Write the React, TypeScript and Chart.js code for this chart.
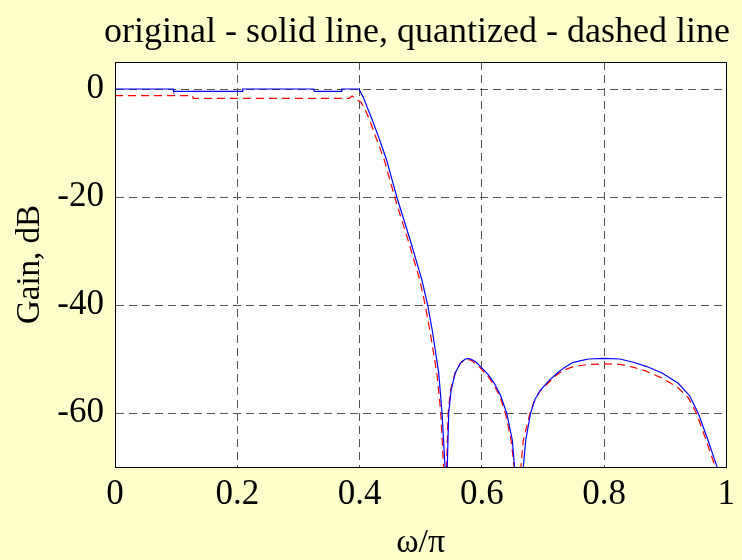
import React, { useEffect, useRef } from "react";
import { Chart, registerables } from "chart.js";

Chart.register(...registerables);

const TITLE = "original - solid line, quantized - dashed line";
const X_LABEL = "ω/π";
const Y_LABEL = "Gain, dB";

const xTicks = [0, 0.2, 0.4, 0.6, 0.8, 1];
const yTicks = [-60, -40, -20, 0];

// original filter (solid blue)
const omegaOrig = [
  0, 0.095, 0.096, 0.208, 0.209, 0.325, 0.326, 0.37, 0.371, 0.399,
  0.406, 0.413, 0.421, 0.43, 0.444, 0.461, 0.483, 0.502, 0.5115, 0.5195,
  0.5296, 0.535, 0.54, 0.542, 0.5436, 0.5459, 0.55, 0.5566, 0.5654, 0.572,
  0.577, 0.582, 0.59, 0.598, 0.61, 0.6206, 0.631, 0.6407, 0.65, 0.6537,
  0.661, 0.668, 0.672, 0.68, 0.687, 0.6964, 0.71, 0.7236, 0.735, 0.748,
  0.762, 0.775, 0.8, 0.826, 0.848, 0.87, 0.895, 0.9215, 0.94, 0.954,
  0.97, 0.985, 1.0,
];
const gainOrig = [
  0, 0, -0.43, -0.43, 0, 0, -0.43, -0.43, 0, 0,
  -1.5, -3.5, -5.8, -8.5, -13, -20, -28, -35.3, -40, -45,
  -52.6, -60, -70, -100, -70, -60, -55.7, -52.6, -50.7, -50.1,
  -49.9, -50.0, -50.5, -51.4, -52.8, -54.5, -56.8, -60, -65, -70,
  -100, -70, -65, -60, -57.5, -55.7, -54, -52.6, -51.6, -50.7,
  -50.3, -50.0, -49.9, -50.0, -50.6, -51.4, -52.6, -54.5, -56.8, -60,
  -65, -70, -100,
];

// quantized filter (dashed red)
const omegaQuant = [
  0, 0.127, 0.128, 0.383, 0.388, 0.395, 0.403, 0.41, 0.418, 0.427,
  0.441, 0.458, 0.48, 0.499, 0.508, 0.516, 0.527, 0.533, 0.5375, 0.54,
  0.5425, 0.545, 0.549, 0.556, 0.565, 0.57, 0.576, 0.582, 0.589, 0.597,
  0.609, 0.62, 0.63, 0.639, 0.648, 0.653, 0.658, 0.664, 0.668, 0.679,
  0.686, 0.695, 0.709, 0.722, 0.735, 0.748, 0.762, 0.775, 0.8, 0.826,
  0.847, 0.868, 0.894, 0.92, 0.938, 0.951, 0.967, 0.982, 1.0,
];
const gainQuant = [
  -1.24, -1.24, -1.73, -1.73, -1.3, -1.9, -2.5, -4.0, -6.2, -9.0,
  -13.3, -20.2, -28.2, -35.5, -40.3, -45.3, -53, -60, -70, -100,
  -70, -60, -55.7, -52.7, -50.8, -50.3, -50.1, -50.2, -50.8, -51.6,
  -53, -54.8, -57, -60.2, -65, -70, -100, -70, -65, -60,
  -57.8, -56, -54.4, -53, -52, -51.5, -51.2, -51, -50.9, -51,
  -51.5, -52.2, -53.5, -55.2, -57.2, -60, -65, -70, -100,
];

const SERIF = "'Liberation Serif', 'Times New Roman', serif";

export default function App() {
  const ref = useRef<HTMLCanvasElement | null>(null);

  useEffect(() => {
    document.body.style.margin = "0";
    const canvas = ref.current;
    if (!canvas) return;

    const bgPlugin = {
      id: "bg",
      beforeDraw(chart: any) {
        const { ctx, width, height, chartArea } = chart;
        ctx.save();
        ctx.fillStyle = "#FFFFCC";
        ctx.fillRect(0, 0, width, height);
        ctx.fillStyle = "#FFFFFF";
        ctx.fillRect(
          chartArea.left,
          chartArea.top,
          chartArea.right - chartArea.left,
          chartArea.bottom - chartArea.top
        );
        ctx.restore();
      },
      afterDraw(chart: any) {
        const { ctx, chartArea } = chart;
        ctx.save();
        ctx.strokeStyle = "#000000";
        ctx.lineWidth = 1;
        ctx.setLineDash([]);
        ctx.strokeRect(
          Math.round(chartArea.left) + 0.5,
          Math.round(chartArea.top) + 0.5,
          Math.round(chartArea.right - chartArea.left),
          Math.round(chartArea.bottom - chartArea.top)
        );
        ctx.fillStyle = "#000000";
        ctx.font = `36px ${SERIF}`;
        ctx.textAlign = "center";
        ctx.textBaseline = "alphabetic";
        ctx.fillText(TITLE, 417, 42);
        ctx.restore();
      },
    };

    const chart = new Chart(canvas, {
      type: "line",
      data: {
        datasets: [
          {
            label: "original",
            data: omegaOrig.map((w, i) => ({ x: w, y: gainOrig[i] })),
            borderColor: "#0000FF",
            borderWidth: 1.2,
            pointRadius: 0,
            tension: 0,
            fill: false,
          },
          {
            label: "quantized",
            data: omegaQuant.map((w, i) => ({ x: w, y: gainQuant[i] })),
            borderColor: "#FF0000",
            borderWidth: 1.2,
            borderDash: [8, 5],
            pointRadius: 0,
            tension: 0,
            fill: false,
          },
        ],
      },
      plugins: [bgPlugin],
      options: {
        animation: false,
        responsive: false,
        layout: { padding: { top: 62, right: 12, bottom: 0, left: 0 } },
        plugins: {
          legend: { display: false },
          tooltip: { enabled: false },
          title: { display: false },
        },
        scales: {
          x: {
            type: "linear",
            min: 0,
            max: 1,
            afterBuildTicks: (scale: any) => {
              scale.ticks = xTicks.map((v) => ({ value: v }));
            },
            afterFit: (scale: any) => {
              scale.height = 93;
            },
            ticks: {
              color: "#000",
              font: { family: SERIF, size: 35 },
              padding: 7,
              maxRotation: 0,
              autoSkip: false,
              callback: (v: any) => String(v),
            },
            grid: { color: "#555555", lineWidth: 1, drawTicks: false },
            border: { display: true, color: "#000", width: 1, dash: [8, 5] },
            title: {
              display: true,
              text: X_LABEL,
              color: "#000",
              font: { family: SERIF, size: 34, lineHeight: 1 },
              padding: { top: 0, bottom: 0 },
            },
          },
          y: {
            type: "linear",
            min: -70,
            max: 5,
            afterBuildTicks: (scale: any) => {
              scale.ticks = yTicks.map((v) => ({ value: v }));
            },
            afterFit: (scale: any) => {
              scale.width = 115;
            },
            ticks: {
              color: "#000",
              font: { family: SERIF, size: 35 },
              padding: 11,
              autoSkip: false,
              callback: (v: any) => String(v),
            },
            grid: { color: "#555555", lineWidth: 1, drawTicks: false },
            border: { display: true, color: "#000", width: 1, dash: [8, 5] },
            title: {
              display: true,
              text: Y_LABEL,
              color: "#000",
              font: { family: SERIF, size: 33, lineHeight: 1 },
              padding: { top: 14, bottom: 0 },
            },
          },
        },
      },
    });

    return () => {
      chart.destroy();
    };
  }, []);

  return (
    <canvas
      ref={ref}
      width={742}
      height={560}
      style={{ display: "block", width: 742, height: 560 }}
    />
  );
}
